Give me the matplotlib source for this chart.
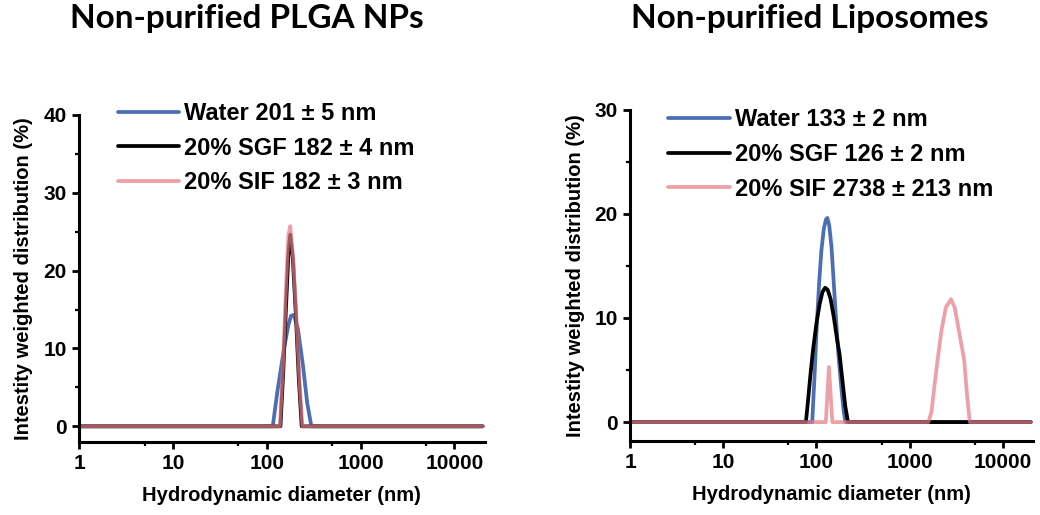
#!/usr/bin/env python3

"""DLS size distributions of non-purified PLGA NPs and liposomes."""

import matplotlib

matplotlib.use("Agg")

import matplotlib.pyplot as plt
from matplotlib.ticker import FixedLocator, NullFormatter

###############################################################################
# Data
###############################################################################

# PLGA NPs
plga_water_d = [1, 116, 130, 153, 170, 182, 195, 215, 244, 270, 299, 20000]
plga_water_i = [0, 0, 4.5, 10.0, 13.0, 14.2, 14.3, 12.5, 7.7, 3.0, 0, 0]

plga_sgf_d = [1, 140, 150, 160, 170, 178, 190, 205, 220, 236, 20000]
plga_sgf_i = [0, 0, 7.0, 15.0, 22.0, 24.6, 21.5, 14.0, 6.0, 0, 0]

plga_sif_d = [1, 138, 150, 160, 170, 178, 192, 208, 224, 240, 20000]
plga_sif_i = [0, 0, 8.5, 17.5, 24.5, 25.7, 21.5, 13.5, 5.5, 0, 0]

# Liposomes
lipo_water_d = [1, 90, 96, 101, 107, 113, 120, 127, 131, 137, 145, 153,
                162, 172, 184, 196, 205, 20000]
lipo_water_i = [0, 0, 5.0, 9.5, 13.5, 16.5, 18.6, 19.5, 19.6, 18.9, 16.8,
                13.5, 10.0, 6.5, 3.5, 1.0, 0, 0]

lipo_sgf_d = [1, 77, 81, 86, 92, 100, 108, 116, 124, 132, 142, 154, 166,
              177, 190, 204, 218, 20000]
lipo_sgf_i = [0, 0, 2.0, 4.5, 7.0, 9.5, 11.3, 12.5, 12.9, 12.7, 11.8, 10.0,
              8.0, 6.5, 4.0, 1.5, 0, 0]

lipo_sif_d = [1, 126, 136, 148, 1590, 1720, 1850, 2000, 2200, 2450, 2780,
              3050, 3350, 3850, 4150, 4430, 20000]
lipo_sif_i = [0, 0, 5.3, 0, 0, 1.0, 3.5, 6.0, 8.8, 11.0, 11.8, 11.0, 9.0,
              6.0, 2.5, 0, 0]

plga_labels = ["Water 201 \u00b1 5 nm", "20% SGF 182 \u00b1 4 nm",
               "20% SIF 182 \u00b1 3 nm"]
lipo_labels = ["Water 133 \u00b1 2 nm", "20% SGF 126 \u00b1 2 nm",
               "20% SIF 2738 \u00b1 213 nm"]

titles = ["Non-purified PLGA NPs", "Non-purified Liposomes"]
x_ticks = [1, 10, 100, 1000, 10000]
x_tick_labels = ["1", "10", "100", "1000", "10000"]

###############################################################################
# Styling
###############################################################################

BLUE = "#4a6fb5"
BLACK = "#000000"
PINK = "#e57d87"

AX_FONT = "Liberation Sans"
TITLE_FONT = "Lato"


def _style_axes(ax, ylim, yticks, yminor):
    ax.set_xscale("log")
    ax.set_xlim(1, 21000)
    ax.set_ylim(*ylim)
    for side in ("top", "right"):
        ax.spines[side].set_visible(False)
    for side in ("left", "bottom"):
        ax.spines[side].set_linewidth(2.2)
    ax.xaxis.set_major_locator(FixedLocator(x_ticks))
    ax.xaxis.set_minor_locator(FixedLocator([5, 50, 500, 5000]))
    ax.xaxis.set_minor_formatter(NullFormatter())
    ax.set_xticklabels(x_tick_labels)
    ax.set_yticks(yticks)
    ax.yaxis.set_minor_locator(FixedLocator(yminor))
    ax.tick_params(which="major", direction="out", length=5, width=2,
                   labelsize=15, pad=4)
    ax.tick_params(which="minor", direction="out", length=3, width=1.6)
    for lbl in ax.get_xticklabels() + ax.get_yticklabels():
        lbl.set_fontfamily(AX_FONT)
        lbl.set_fontweight("bold")
    ax.set_xlabel("Hydrodynamic diameter (nm)", fontfamily=AX_FONT,
                  fontweight="bold", fontsize=14.5, labelpad=9)
    ax.set_ylabel("Intestity weighted distribution (%)", fontfamily=AX_FONT,
                  fontweight="bold", fontsize=14.5, labelpad=7)


def _plot_panel(ax, series, labels, anchor):
    for (d, i, color, alpha, lw), label in zip(series, labels):
        ax.plot(d, i, color=color, alpha=alpha, lw=lw, label=label,
                solid_capstyle="round")
    leg = ax.legend(loc="upper left", bbox_to_anchor=anchor,
                    frameon=False, handlelength=2.6, handletextpad=0.2,
                    labelspacing=0.5, borderpad=0.0, borderaxespad=0.0,
                    prop={"family": AX_FONT, "weight": "bold", "size": 17})
    return leg


fig = plt.figure(figsize=(10.4, 5.15), dpi=100)
ax1 = fig.add_axes([0.076, 0.142, 0.390, 0.635])
ax2 = fig.add_axes([0.606, 0.144, 0.387, 0.643])

_plot_panel(ax1, [
    (plga_water_d, plga_water_i, BLUE, 1.0, 2.7),
    (plga_sgf_d, plga_sgf_i, BLACK, 1.0, 2.7),
    (plga_sif_d, plga_sif_i, PINK, 0.72, 2.7),
], plga_labels, (0.095, 1.04))
_style_axes(ax1, (-2, 40), [0, 10, 20, 30, 40], [5, 15, 25, 35])

_plot_panel(ax2, [
    (lipo_water_d, lipo_water_i, BLUE, 1.0, 2.7),
    (lipo_sgf_d, lipo_sgf_i, BLACK, 1.0, 2.7),
    (lipo_sif_d, lipo_sif_i, PINK, 0.72, 2.7),
], lipo_labels, (0.095, 1.005))
_style_axes(ax2, (-1.8, 30), [0, 10, 20, 30], [5, 15, 25])

fig.text(0.237, 0.965, titles[0], ha="center", va="center",
         fontfamily=TITLE_FONT, fontweight="bold", fontsize=24)
fig.text(0.779, 0.965, titles[1], ha="center", va="center",
         fontfamily=TITLE_FONT, fontweight="bold", fontsize=24)

fig.savefig("out.png", dpi=100)
